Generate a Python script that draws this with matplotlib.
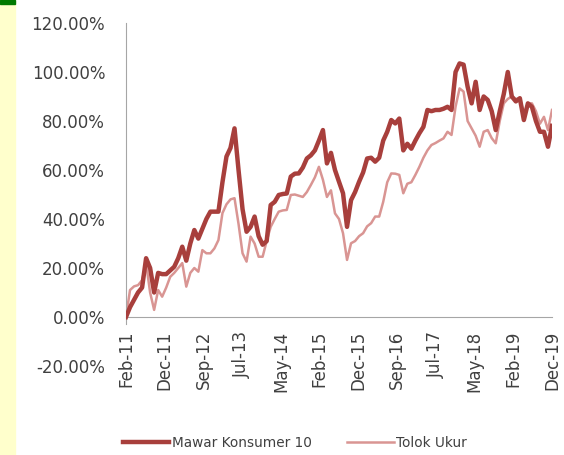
import matplotlib.pyplot as plt
from matplotlib.patches import Rectangle
import numpy as np

# monthly returns since Feb-11 (percent)
mawar = [0, 4, 7, 10, 12, 24, 20, 10, 18, 17.5,
         17.5, 19, 20.5, 24, 28.7, 23, 30, 35.5, 32, 36,
         40, 43, 43, 43, 55, 65.5, 69, 77, 60, 44,
         34.8, 36.8, 41, 33, 29.5, 31, 45.7, 47, 49.8, 50.2,
         50.4, 57.3, 58.5, 58.6, 61, 64.7, 66, 68, 72, 76.3,
         62.7, 67, 60, 55.2, 50.5, 36.8, 47.7, 51, 55.2, 59,
         64.7, 65, 63.4, 65, 72, 75.6, 80.4, 79, 81, 68,
         70.7, 68.7, 72, 75, 77.6, 84.5, 84, 84.5, 84.5, 85,
         85.8, 84.5, 100, 103.5, 103, 94, 87.2, 96, 84.5, 90,
         88.6, 84, 76.3, 84, 91, 100, 90, 88, 89.3, 80.4,
         87.2, 85.8, 80, 75.6, 75.6, 69.5, 78]
tolok = [0, 11, 12.5, 13, 15, 22, 10, 2.9, 11, 8.3,
         12, 16.4, 18, 20, 22, 12.4, 18, 20, 18.5, 27.3,
         26, 26, 28, 31.4, 42.4, 46, 48, 48.5, 38, 26,
         22.6, 32.8, 30, 24.6, 24.6, 31, 36.8, 40, 43, 43.5,
         43.7, 49.8, 50, 49.5, 49, 51, 53.9, 57, 61.3, 56,
         49, 51.7, 42.3, 40, 34.2, 23.3, 30.1, 31, 33, 34.2,
         37, 38.3, 41, 41, 47, 55, 58.6, 58.5, 58, 50.5,
         54.4, 55, 58, 61.3, 65, 68, 70.2, 71, 72, 72.9,
         75.6, 74.3, 85.8, 93.3, 92, 80, 77, 74, 69.5, 75.6,
         76.3, 73, 70.9, 80, 87.2, 89, 90, 89, 89.3, 83.1,
         87.2, 87.2, 84, 78.9, 81.7, 76.3, 84.5]
tick_labels = ['Feb-11', 'Dec-11', 'Sep-12', 'Jul-13', 'May-14', 'Feb-15',
               'Dec-15', 'Sep-16', 'Jul-17', 'May-18', 'Feb-19', 'Dec-19']

plt.rcParams['font.family'] = 'DejaVu Sans'

fig = plt.figure(figsize=(5.64, 4.55), dpi=100)
# yellow strip + green marker on the left
fig.patches.append(Rectangle((0, 0), 15/564, 1, transform=fig.transFigure,
                             color='#FFFFCC', zorder=0))
fig.patches.append(Rectangle((0, 1-4/455), 15/564, 4/455, transform=fig.transFigure,
                             color='#007A00', zorder=1))

ax = fig.add_axes([126/564, 1-366/455, 426/564, 343/455])
x = np.arange(len(mawar))
ax.plot(x, tolok, color='#D99593', lw=1.8, label='Tolok Ukur', zorder=2)
ax.plot(x, mawar, color='#A83F3C', lw=3.2, label='Mawar Konsumer 10', zorder=3)

for s in ['top', 'right']:
    ax.spines[s].set_visible(False)
ax.spines['bottom'].set_position(('data', 0))
ax.spines['bottom'].set_color('#A6A6A6')
ax.spines['left'].set_color('#A6A6A6')
ax.spines['left'].set_bounds(-3, 120)

ax.set_xlim(0, len(mawar)-1)
ax.set_ylim(-20, 120)
ax.set_yticks(np.arange(-20, 121, 20))
ax.set_yticklabels(['%.2f%%' % v for v in np.arange(-20, 121, 20)])
ax.set_xticks(np.linspace(0, len(mawar)-1, len(tick_labels)))
ax.set_xticklabels(tick_labels)
ax.tick_params(axis='y', length=0, pad=15, labelsize=12, labelcolor='#404040')
ax.tick_params(axis='x', length=0, pad=10, labelsize=12, labelcolor='#404040',
               labelrotation=90)

handles, labels = ax.get_legend_handles_labels()
fig.legend(handles[::-1], labels[::-1], loc='center', bbox_to_anchor=(0.523, 1-443/455),
           ncol=2, frameon=False, fontsize=9.8, handlelength=3.4, columnspacing=2.6,
           handletextpad=0.2, labelcolor='#404040')

fig.savefig('out.png', dpi=100)
